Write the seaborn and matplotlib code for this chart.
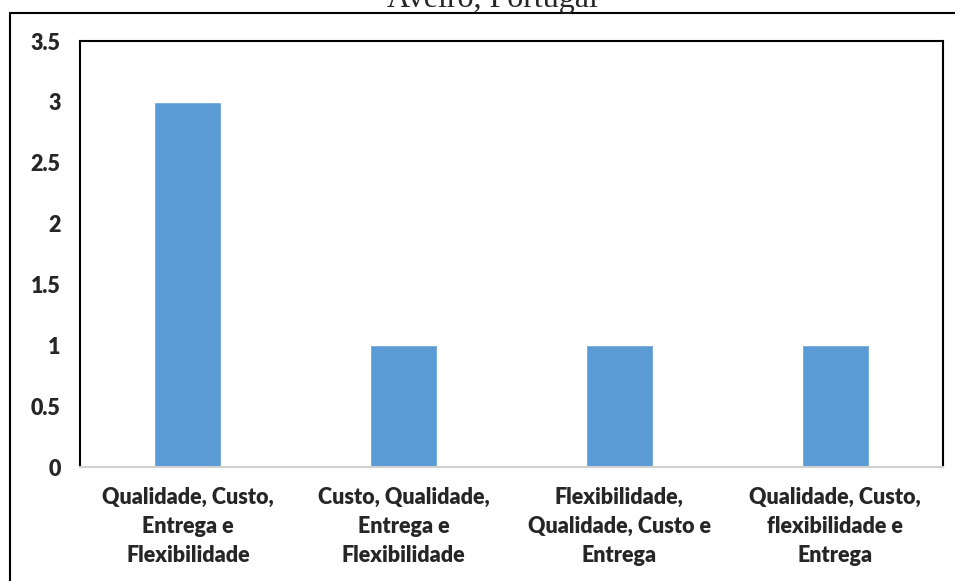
import matplotlib
matplotlib.use("Agg")
import matplotlib.pyplot as plt
import seaborn as sns
import pandas as pd
from matplotlib.patches import Rectangle

categories = ["Qualidade, Custo,\nEntrega e\nFlexibilidade",
              "Custo, Qualidade,\nEntrega e\nFlexibilidade",
              "Flexibilidade,\nQualidade, Custo e\nEntrega",
              "Qualidade, Custo,\nflexibilidade e\nEntrega"]
values = [3, 1, 1, 1]
yticks = [0, 0.5, 1, 1.5, 2, 2.5, 3, 3.5]
ytick_labels = ["0", "0.5", "1", "1.5", "2", "2.5", "3", "3.5"]
title = "Aveiro, Portugal"

sns.set_theme(style="white")
plt.rcParams['font.family'] = ['Lato', 'DejaVu Sans']

W, H = 955, 581
fig = plt.figure(figsize=(W/100, H/100), dpi=100)
ax = fig.add_axes([80/W, 1 - 467/H, (943-80)/W, (467-41)/H])

df = pd.DataFrame({"cat": categories, "val": values})
sns.barplot(data=df, x="cat", y="val", color="#5B9BD5", width=0.31,
            saturation=1, ax=ax)

ax.set_ylim(0, 3.5)
ax.set_xlim(-0.5, 3.5)
ax.set_yticks(yticks)
ax.set_yticklabels(ytick_labels, fontsize=15.5, fontweight='heavy')
ax.tick_params(axis='x', labelsize=15.5, length=0, pad=14)
ax.tick_params(axis='y', length=0, pad=14)
for lab in ax.get_xticklabels():
    lab.set_fontweight('heavy')
    lab.set_linespacing(1.5)
ax.set_xlabel("")
ax.set_ylabel("")

for s in ['left', 'top', 'right']:
    ax.spines[s].set_visible(True)
    ax.spines[s].set_color('black')
    ax.spines[s].set_linewidth(1.5)
ax.spines['bottom'].set_color('#D0D0D0')
ax.spines['bottom'].set_linewidth(1.5)

# outer frame
fig.patches.append(Rectangle((10/W, -0.1), 1.2, 1 - 13/H + 0.1,
                             transform=fig.transFigure, fill=False,
                             edgecolor='black', linewidth=1.5))

fig.text(492/W, 1 - 7/H, title, ha='center', va='baseline',
         fontsize=23, family=['Liberation Serif'])

fig.savefig("out.png", dpi=100)
